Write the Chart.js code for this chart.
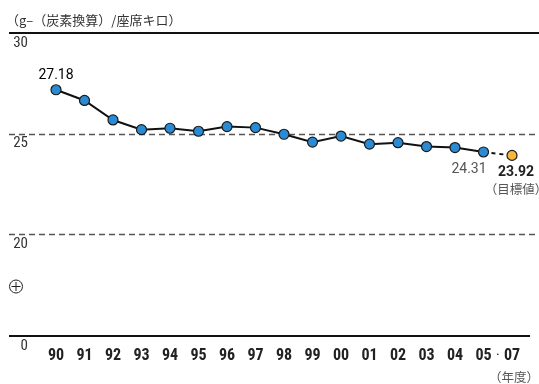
<!DOCTYPE html>
<html>
<head>
<meta charset="utf-8">
<script src="https://cdn.jsdelivr.net/npm/chart.js@4/dist/chart.umd.min.js"></script>
<style>
  html, body { margin: 0; padding: 0; background: #fff; }
  #wrap { width: 539px; height: 384px; position: relative; }
</style>
</head>
<body>
<div id="wrap"><canvas id="c" width="539" height="384"></canvas></div>
<script>
// 年度 (fiscal years) on the x axis; 06 is omitted, 07 is the target year
const years = ['90','91','92','93','94','95','96','97','98','99','00','01','02','03','04','05','07'];

// CO2 emissions per seat-km, g (carbon equivalent)
const actual = [27.18, 26.65, 25.68, 25.20, 25.27, 25.12, 25.35, 25.30, 24.97, 24.58, 24.88, 24.48, 24.55, 24.36, 24.31, 24.09, null];
// dashed projection from the last actual year to the target
const target = [null, null, null, null, null, null, null, null, null, null, null, null, null, null, null, 24.09, 23.92];

// value axis labels (the lowest line stands for 0 across the axis break)
const yTicks = [30, 25, 20];
const yBreakLabel = '0';
const yMin = 14.95;
const yMax = 30;

const NARROW = "'Liberation Sans Narrow', 'Roboto Condensed', 'DejaVu Sans Condensed', sans-serif";
const SANS = "Roboto, 'Liberation Sans', sans-serif";
const CJK = "'Noto Sans CJK JP', 'Noto Sans', sans-serif";

const frame = {
  id: 'frame',
  beforeDatasetsDraw(chart) {
    const ctx = chart.ctx;
    const y = chart.scales.y;
    ctx.save();
    // top line (30)
    ctx.strokeStyle = '#111';
    ctx.lineWidth = 2;
    ctx.setLineDash([]);
    let p = Math.round(y.getPixelForValue(yMax));
    ctx.beginPath(); ctx.moveTo(9, p); ctx.lineTo(539, p); ctx.stroke();
    // bottom line (0)
    p = Math.round(y.getPixelForValue(yMin));
    ctx.beginPath(); ctx.moveTo(9, p); ctx.lineTo(530, p); ctx.stroke();
    // dashed reference lines
    ctx.strokeStyle = '#555';
    ctx.lineWidth = 1.5;
    ctx.setLineDash([6, 4]);
    for (const v of yTicks.slice(1)) {
      const q = Math.round(y.getPixelForValue(v)) + 0.5;
      ctx.beginPath(); ctx.moveTo(9, q); ctx.lineTo(539, q); ctx.stroke();
    }
    ctx.setLineDash([]);
    // tick labels under each line
    ctx.fillStyle = '#333';
    ctx.font = '15px ' + NARROW;
    ctx.textAlign = 'right';
    ctx.textBaseline = 'middle';
    for (const v of yTicks) {
      ctx.fillText(String(v), 28, y.getPixelForValue(v) + 10);
    }
    ctx.fillText(yBreakLabel, 28, y.getPixelForValue(yMin) + 10);
    // axis break mark
    ctx.strokeStyle = '#222';
    ctx.lineWidth = 1;
    ctx.beginPath(); ctx.arc(16, 286.5, 6.5, 0, Math.PI * 2); ctx.stroke();
    ctx.beginPath();
    ctx.moveTo(11.5, 286.5); ctx.lineTo(20.5, 286.5);
    ctx.moveTo(16, 282); ctx.lineTo(16, 291);
    ctx.stroke();
    // unit title
    ctx.fillStyle = '#333';
    ctx.font = '13px ' + CJK;
    ctx.textAlign = 'left';
    ctx.fillText('（g–（炭素換算）/座席キロ）', 6, 20);
    ctx.restore();
  },
  afterDatasetsDraw(chart) {
    const ctx = chart.ctx;
    const pts = chart.getDatasetMeta(0).data;
    const tpts = chart.getDatasetMeta(1).data;
    const x = chart.scales.x;
    ctx.save();
    ctx.textAlign = 'center';
    ctx.textBaseline = 'middle';
    // first year value
    ctx.fillStyle = '#000';
    ctx.font = '14px ' + SANS;
    ctx.fillText(String(actual[0]), pts[0].x, pts[0].y - 14);
    // latest labelled actual value
    const i = 14;
    ctx.fillStyle = '#555';
    ctx.font = '14px ' + SANS;
    ctx.fillText(actual[i].toFixed(2), pts[i].x + 14, pts[i].y + 22);
    // target value
    const t = target.length - 1;
    ctx.fillStyle = '#222';
    ctx.font = 'bold 14px ' + SANS;
    ctx.fillText(target[t].toFixed(2), tpts[t].x + 4, tpts[t].y + 17);
    ctx.fillStyle = '#555';
    ctx.font = '12.5px ' + CJK;
    ctx.fillText('（目標値）', tpts[t].x + 4, tpts[t].y + 34);
    // separator between 05 and 07, and the unit of the year axis
    ctx.fillStyle = '#222';
    ctx.font = '15px ' + NARROW;
    const mid = (x.getPixelForValue(years.length - 2) + x.getPixelForValue(years.length - 1)) / 2;
    ctx.fillText('·', mid, 356);
    ctx.fillStyle = '#555';
    ctx.font = '12.5px ' + CJK;
    ctx.fillText('（年度）', 514, 377);
    ctx.restore();
  }
};

new Chart(document.getElementById('c'), {
  type: 'line',
  data: {
    labels: years,
    datasets: [
      {
        data: actual,
        borderColor: '#111',
        borderWidth: 2,
        pointRadius: 5,
        pointBorderWidth: 1.2,
        pointBackgroundColor: '#2a8bd4',
        pointBorderColor: '#1a1a1a',
        tension: 0,
        order: 1
      },
      {
        data: target,
        borderColor: '#111',
        borderWidth: 2,
        borderDash: [4, 4],
        pointRadius: target.map((v, k) => k === target.length - 1 ? 5 : 0),
        pointBorderWidth: 1.2,
        pointBackgroundColor: '#f6b73c',
        pointBorderColor: '#1a1a1a',
        tension: 0,
        order: 2
      }
    ]
  },
  options: {
    responsive: false,
    animation: false,
    events: [],
    layout: { padding: { left: 56, right: 27, top: 33, bottom: 0 } },
    plugins: { legend: { display: false }, tooltip: { enabled: false } },
    scales: {
      x: {
        offset: false,
        grid: { display: false, drawTicks: false },
        border: { display: false },
        ticks: {
          color: '#222',
          font: { family: NARROW, size: 16, weight: 'bold' },
          padding: 10,
          maxRotation: 0,
          autoSkip: false
        },
        afterFit(s) { s.height = 48; }
      },
      y: {
        display: false,
        min: yMin,
        max: yMax
      }
    }
  },
  plugins: [frame]
});
</script>
</body>
</html>
